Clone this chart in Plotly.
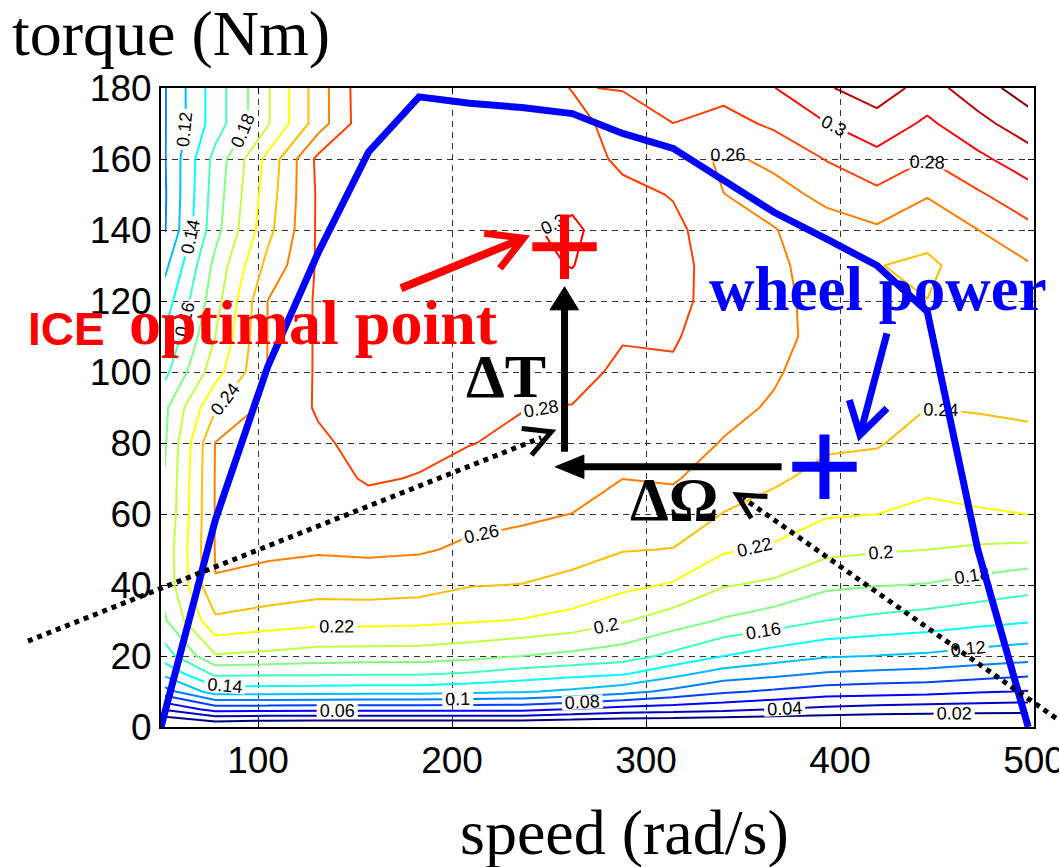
import plotly.graph_objects as go

# ---------------- data ----------------
# efficiency map grid: speed columns (rad/s) and torque rows (Nm)
speed_grid = [52, 78, 105, 131, 157, 183, 209, 236, 262, 288, 314, 340, 366, 393, 419, 445, 471, 497]
torque_grid = [0, 5, 10, 15, 20, 30, 40, 50, 60, 70, 80, 90, 100, 110, 120, 130, 140, 150, 160, 170, 180]

eff_t000 = [-0.01, -0.002, -0.006, -0.006, -0.006, -0.006, -0.006, -0.006, -0.008, -0.01, -0.01, -0.012, -0.01, -0.01, -0.01, -0.01, -0.01, -0.01]
eff_t005 = [0.042, 0.068, 0.067, 0.066, 0.066, 0.066, 0.066, 0.066, 0.059, 0.052, 0.049, 0.046, 0.04, 0.035, 0.032, 0.03, 0.029, 0.028]
eff_t010 = [0.092, 0.13, 0.13, 0.129, 0.128, 0.128, 0.125, 0.122, 0.116, 0.107, 0.095, 0.083, 0.077, 0.07, 0.068, 0.066, 0.062, 0.059]
eff_t015 = [0.125, 0.164, 0.163, 0.163, 0.162, 0.162, 0.158, 0.151, 0.146, 0.142, 0.126, 0.111, 0.105, 0.098, 0.095, 0.093, 0.088, 0.084]
eff_t020 = [0.15, 0.198, 0.195, 0.191, 0.19, 0.19, 0.186, 0.18, 0.175, 0.169, 0.155, 0.14, 0.13, 0.122, 0.1195, 0.117, 0.112, 0.108]
eff_t030 = [0.178, 0.236, 0.23, 0.226, 0.226, 0.225, 0.222, 0.219, 0.213, 0.202, 0.19, 0.178, 0.17, 0.16, 0.155, 0.151, 0.146, 0.142]
eff_t040 = [0.186, 0.2595, 0.254, 0.249, 0.25, 0.248, 0.241, 0.2395, 0.234, 0.225, 0.218, 0.2015, 0.196, 0.184, 0.181, 0.179, 0.173, 0.167]
eff_t050 = [0.187, 0.261, 0.263, 0.262, 0.263, 0.262, 0.257, 0.254, 0.248, 0.241, 0.2395, 0.2225, 0.217, 0.205, 0.202, 0.2001, 0.197, 0.195]
eff_t060 = [0.183, 0.261, 0.266, 0.268, 0.272, 0.27, 0.265, 0.263, 0.2598, 0.251, 0.25, 0.2395, 0.232, 0.222, 0.2201, 0.215, 0.218, 0.2202]
eff_t070 = [0.181, 0.261, 0.268, 0.273, 0.282, 0.279, 0.274, 0.27, 0.268, 0.2601, 0.262, 0.249, 0.243, 0.234, 0.232, 0.226, 0.228, 0.229]
eff_t080 = [0.178, 0.2605, 0.27, 0.277, 0.286, 0.285, 0.2805, 0.277, 0.275, 0.266, 0.268, 0.259, 0.252, 0.243, 0.2415, 0.233, 0.235, 0.237]
eff_t090 = [0.176, 0.238, 0.266, 0.282, 0.288, 0.289, 0.285, 0.2805, 0.2795, 0.272, 0.274, 0.265, 0.258, 0.248, 0.246, 0.2401, 0.241, 0.242]
eff_t100 = [0.155, 0.212, 0.2605, 0.2825, 0.289, 0.291, 0.289, 0.285, 0.285, 0.277, 0.278, 0.269, 0.262, 0.251, 0.249, 0.243, 0.245, 0.246]
eff_t110 = [0.142, 0.2, 0.2603, 0.2825, 0.29, 0.292, 0.291, 0.289, 0.289, 0.281, 0.2815, 0.272, 0.266, 0.253, 0.249, 0.243, 0.247, 0.25]
eff_t120 = [0.13, 0.192, 0.2602, 0.2825, 0.291, 0.293, 0.293, 0.293, 0.294, 0.285, 0.284, 0.274, 0.266, 0.252, 0.2412, 0.2402, 0.2465, 0.253]
eff_t130 = [0.115, 0.186, 0.246, 0.2825, 0.292, 0.294, 0.295, 0.297, 0.3005, 0.289, 0.285, 0.273, 0.264, 0.251, 0.2405, 0.237, 0.2475, 0.258]
eff_t140 = [0.099, 0.173, 0.234, 0.283, 0.292, 0.294, 0.296, 0.298, 0.303, 0.29, 0.284, 0.27, 0.2605, 0.254, 0.257, 0.2455, 0.2598, 0.275]
eff_t150 = [0.098, 0.17, 0.23, 0.283, 0.292, 0.294, 0.295, 0.296, 0.296, 0.285, 0.279, 0.2602, 0.255, 0.2635, 0.2755, 0.2615, 0.2775, 0.292]
eff_t160 = [0.099, 0.167, 0.226, 0.285, 0.293, 0.293, 0.294, 0.292, 0.29, 0.276, 0.27, 0.257, 0.2635, 0.281, 0.2937, 0.2802, 0.2955, 0.311]
eff_t170 = [0.099, 0.15, 0.198, 0.25, 0.296, 0.292, 0.292, 0.289, 0.284, 0.275, 0.2799, 0.272, 0.284, 0.2995, 0.312, 0.2965, 0.314, 0.331]
eff_t180 = [0.099, 0.15, 0.198, 0.25, 0.297, 0.292, 0.29, 0.287, 0.2795, 0.2805, 0.29, 0.288, 0.2995, 0.318, 0.3305, 0.312, 0.331, 0.35]

efficiency = [eff_t000, eff_t005, eff_t010, eff_t015, eff_t020, eff_t030, eff_t040,
              eff_t050, eff_t060, eff_t070, eff_t080, eff_t090, eff_t100, eff_t110,
              eff_t120, eff_t130, eff_t140, eff_t150, eff_t160, eff_t170, eff_t180]

# maximum torque ("wheel power") curve
max_speed = [50, 78, 105, 131, 157, 183, 209, 236, 262, 288, 314, 340, 366, 393, 419, 445, 471, 497]
max_torque = [0, 58.3, 101.5, 133.6, 162, 177.5, 175.7, 174.5, 172.8, 167.2, 163, 154, 145, 137.5, 130, 117, 50, 0]

# marked operating points
ice_opt_speed, ice_opt_torque = [258], [135.3]
wheel_speed, wheel_torque = [392], [73.3]

x_ticks = [100, 200, 300, 400, 500]
y_ticks = [0, 20, 40, 60, 80, 100, 120, 140, 160, 180]
level_start, level_end, level_step = 0.02, 0.34, 0.02

# ---------------- layout geometry ----------------
W, H = 1059, 867
PL, PR, PT, PB = 161, 1034, 88, 727
X_RANGE = [50, 500]
Y_RANGE = [0, 180]


def to_paper(s, t):
    return ((s - X_RANGE[0]) / (X_RANGE[1] - X_RANGE[0]),
            (t - Y_RANGE[0]) / (Y_RANGE[1] - Y_RANGE[0]))


def pix(xp, yp):
    return ((xp - PL) / (PR - PL), (PB - yp) / (PB - PT))


def path_d(pts, close=False):
    d = ""
    for i, (s, t) in enumerate(pts):
        a, b = to_paper(s, t)
        d += ("M" if i == 0 else "L") + f"{a:.5f},{b:.5f}"
    if close:
        d += "Z"
    return d


jet = [[0.0, "rgb(0,0,128)"], [0.125, "rgb(0,0,255)"], [0.375, "rgb(0,255,255)"],
       [0.625, "rgb(255,255,0)"], [0.875, "rgb(255,0,0)"], [1.0, "rgb(128,0,0)"]]

fig = go.Figure()

fig.add_trace(go.Contour(
    x=speed_grid, y=torque_grid, z=efficiency,
    colorscale=jet, showscale=False, autocontour=False,
    contours=dict(start=level_start, end=level_end, size=level_step,
                  coloring="lines", showlabels=True,
                  labelfont=dict(size=18, color="black", family="Liberation Sans"),
                  labelformat=".2~f"),
    line=dict(width=2, smoothing=0),
    hoverinfo="skip",
))

fig.add_trace(go.Scatter(
    x=max_speed, y=max_torque, mode="lines",
    line=dict(color="rgb(0,0,255)", width=7), hoverinfo="skip",
))

fig.add_trace(go.Scatter(
    x=ice_opt_speed, y=ice_opt_torque, mode="markers",
    marker=dict(symbol="cross-thin", size=46, line=dict(color="rgb(255,0,0)", width=9)),
    hoverinfo="skip",
))
fig.add_trace(go.Scatter(
    x=wheel_speed, y=wheel_torque, mode="markers",
    marker=dict(symbol="cross-thin", size=46, line=dict(color="rgb(0,0,255)", width=10)),
    hoverinfo="skip",
))

# ---------------- decorations (arrows) in data units ----------------
shapes = []


def line_shape(pts, color, width, dash="solid"):
    shapes.append(dict(type="path", xref="paper", yref="paper", path=path_d(pts),
                       line=dict(color=color, width=width, dash=dash), layer="above"))


def tri_shape(pts, color):
    shapes.append(dict(type="path", xref="paper", yref="paper", path=path_d(pts, True),
                       line=dict(color=color, width=1), fillcolor=color, layer="above"))


# dotted arrow from the left
line_shape([(-18.6, 24.2), (246, 81.5)], "black", 5, "dot")
line_shape([(235.9, 84.1), (251.2, 83.2), (241.0, 76.6)], "black", 5)
# dotted arrow from the bottom right
line_shape([(511.3, 2.5), (350, 64.5)], "black", 5, "dot")
line_shape([(362.6, 64.9), (346.9, 65.4), (354.3, 58.8)], "black", 5)
# red arrow towards the ICE optimal point
line_shape([(173.7, 123.6), (236.9, 137.7)], "rgb(255,0,0)", 8)
line_shape([(216.6, 139.1), (236.9, 137.7), (224.7, 129.2)], "rgb(255,0,0)", 7)
# blue arrow from "wheel power"
line_shape([(424.2, 110.9), (410.3, 82.3)], "rgb(0,0,255)", 7)
line_shape([(404.8, 92.1), (410.3, 82.3), (424.2, 89.8)], "rgb(0,0,255)", 7)
# delta T arrow
line_shape([(258, 77.5), (258, 118.5)], "black", 7)
tri_shape([(258, 124.0), (250.5, 117.5), (265.2, 117.5)], "black")
# delta Omega arrow
line_shape([(369.9, 73.3), (266, 73.3)], "black", 7)
tri_shape([(253.2, 73.3), (268.0, 76.6), (268.0, 70.0)], "black")

# ---------------- text annotations ----------------
serif = "Liberation Serif"
sans = "Liberation Sans"
annotations = []


def text_at(xpix, ypix, txt, family, size, color, xanchor="left"):
    a, b = pix(xpix, ypix)
    annotations.append(dict(x=a, y=b, xref="paper", yref="paper", text=txt,
                            showarrow=False, xanchor=xanchor, yanchor="middle",
                            font=dict(family=family, size=size, color=color)))


text_at(10, 33, "torque (Nm)", serif, 64, "black")
text_at(624, 832, "speed (rad/s)", serif, 64, "black", xanchor="center")
text_at(26, 329, "<b>ICE</b>", sans, 46, "rgb(255,0,0)")
text_at(127, 322, "<b>optimal point</b>", serif, 64, "rgb(255,0,0)")
text_at(707, 289, "<b>wheel power</b>", serif, 63, "rgb(0,0,255)")
text_at(464, 376, "<b>ΔT</b>", serif, 62, "black")
text_at(628, 499, "<b>ΔΩ</b>", serif, 62, "black")

axis_common = dict(
    showline=True, linecolor="black", linewidth=2, mirror="ticks",
    ticks="inside", ticklen=6, tickcolor="black",
    showgrid=True, gridcolor="rgba(0,0,0,0.8)", gridwidth=1, griddash="6px,5px",
    zeroline=False, ticklabeloverflow="allow", automargin=False,
    tickfont=dict(family=sans, size=37, color="black"),
)

fig.update_layout(
    width=W, height=H, autosize=False,
    margin=dict(l=PL, r=W - PR, t=PT, b=H - PB, pad=0, autoexpand=False),
    paper_bgcolor="white", plot_bgcolor="white",
    showlegend=False,
    xaxis=dict(range=X_RANGE, tickvals=x_ticks, ticklabelstandoff=0, **axis_common),
    yaxis=dict(range=Y_RANGE, tickvals=y_ticks, ticklabelstandoff=0, **axis_common),
    shapes=shapes,
    annotations=annotations,
)

fig.write_html("out.html")
